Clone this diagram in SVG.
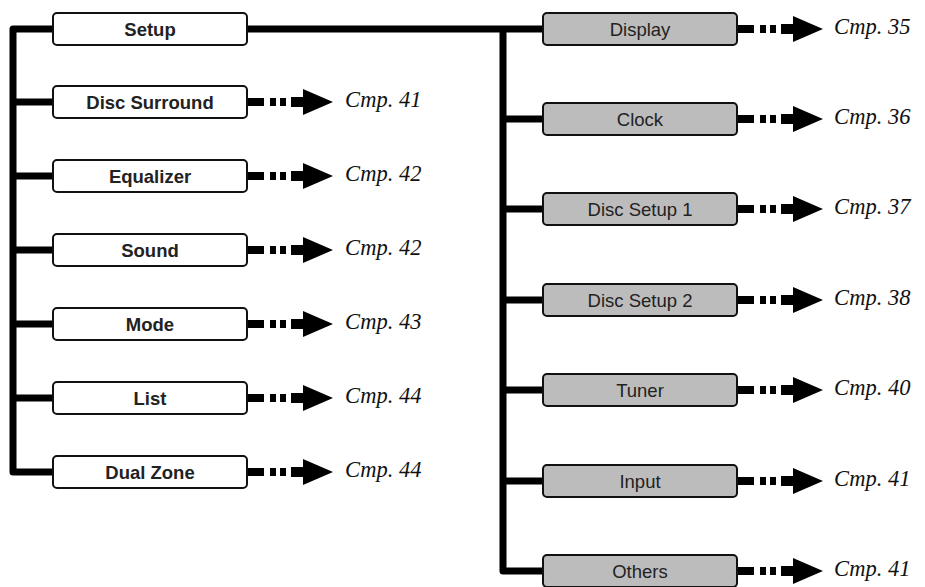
<svg xmlns="http://www.w3.org/2000/svg" xmlns:xlink="http://www.w3.org/1999/xlink" width="925" height="587" viewBox="0 0 925 587">
<style>
.ln{fill:none;stroke:#000;stroke-width:7;stroke-linejoin:round}
.bw{fill:#fff;stroke:#111;stroke-width:2}
.bg{fill:#bcbcbc;stroke:#111;stroke-width:2}
.tb{font-family:"Liberation Sans",Arial,sans-serif;font-size:18.5px;font-weight:bold;fill:#222;text-anchor:middle}
.tr{font-family:"Liberation Sans",Arial,sans-serif;font-size:18.5px;fill:#222;text-anchor:middle}
.pg{font-family:"Liberation Serif","Times New Roman",serif;font-style:italic;font-size:22.5px;fill:#111}
</style>
<defs>
<g id="arr" fill="#000">
<rect x="0" y="-4" width="17" height="8"/>
<rect x="23" y="-4" width="6" height="8"/>
<rect x="33" y="-4" width="6" height="8"/>
<polygon points="44,-5 56,-5 56,-13 86,0 56,13 56,5 44,5"/>
</g>
</defs>
<g id="connectors">
<path class="ln" d="M53 29 H13 V472 H53"/>
<path class="ln" d="M13 102 H53 M13 176 H53 M13 250 H53 M13 324 H53 M13 398 H53"/>
<path class="ln" d="M247 29 H543"/>
<path class="ln" d="M503 29 V571 H543"/>
<path class="ln" d="M503 119 H543 M503 209 H543 M503 300 H543 M503 390 H543 M503 481 H543"/>
<use xlink:href="#arr" x="247" y="102"/>
<use xlink:href="#arr" x="247" y="176"/>
<use xlink:href="#arr" x="247" y="250"/>
<use xlink:href="#arr" x="247" y="324"/>
<use xlink:href="#arr" x="247" y="398"/>
<use xlink:href="#arr" x="247" y="472"/>
<use xlink:href="#arr" x="737" y="29"/>
<use xlink:href="#arr" x="737" y="119"/>
<use xlink:href="#arr" x="737" y="209"/>
<use xlink:href="#arr" x="737" y="300"/>
<use xlink:href="#arr" x="737" y="390"/>
<use xlink:href="#arr" x="737" y="481"/>
<use xlink:href="#arr" x="737" y="571"/>
</g>
<g id="setup"><rect class="bw" x="53" y="13" width="194" height="32" rx="4"/><text class="tb" x="150" y="35.5">Setup</text></g>
<g id="disc-surround"><rect class="bw" x="53" y="86" width="194" height="32" rx="4"/><text class="tb" x="150" y="108.5">Disc Surround</text><text class="pg" x="345" y="107">Стр. 41</text></g>
<g id="equalizer"><rect class="bw" x="53" y="160" width="194" height="32" rx="4"/><text class="tb" x="150" y="182.5">Equalizer</text><text class="pg" x="345" y="181">Стр. 42</text></g>
<g id="sound"><rect class="bw" x="53" y="234" width="194" height="32" rx="4"/><text class="tb" x="150" y="256.5">Sound</text><text class="pg" x="345" y="255">Стр. 42</text></g>
<g id="mode"><rect class="bw" x="53" y="308" width="194" height="32" rx="4"/><text class="tb" x="150" y="330.5">Mode</text><text class="pg" x="345" y="329">Стр. 43</text></g>
<g id="list"><rect class="bw" x="53" y="382" width="194" height="32" rx="4"/><text class="tb" x="150" y="404.5">List</text><text class="pg" x="345" y="403">Стр. 44</text></g>
<g id="dual-zone"><rect class="bw" x="53" y="456" width="194" height="32" rx="4"/><text class="tb" x="150" y="478.5">Dual Zone</text><text class="pg" x="345" y="477">Стр. 44</text></g>
<g id="display"><rect class="bg" x="543" y="13" width="194" height="32" rx="4"/><text class="tr" x="640" y="35.5">Display</text><text class="pg" x="834" y="34">Стр. 35</text></g>
<g id="clock"><rect class="bg" x="543" y="103" width="194" height="32" rx="4"/><text class="tr" x="640" y="125.5">Clock</text><text class="pg" x="834" y="124">Стр. 36</text></g>
<g id="disc-setup-1"><rect class="bg" x="543" y="193" width="194" height="32" rx="4"/><text class="tr" x="640" y="215.5">Disc Setup 1</text><text class="pg" x="834" y="214">Стр. 37</text></g>
<g id="disc-setup-2"><rect class="bg" x="543" y="284" width="194" height="32" rx="4"/><text class="tr" x="640" y="306.5">Disc Setup 2</text><text class="pg" x="834" y="305">Стр. 38</text></g>
<g id="tuner"><rect class="bg" x="543" y="374" width="194" height="32" rx="4"/><text class="tr" x="640" y="396.5">Tuner</text><text class="pg" x="834" y="395">Стр. 40</text></g>
<g id="input"><rect class="bg" x="543" y="465" width="194" height="32" rx="4"/><text class="tr" x="640" y="487.5">Input</text><text class="pg" x="834" y="486">Стр. 41</text></g>
<g id="others"><rect class="bg" x="543" y="555" width="194" height="32" rx="4"/><text class="tr" x="640" y="577.5">Others</text><text class="pg" x="834" y="576">Стр. 41</text></g>
</svg>
